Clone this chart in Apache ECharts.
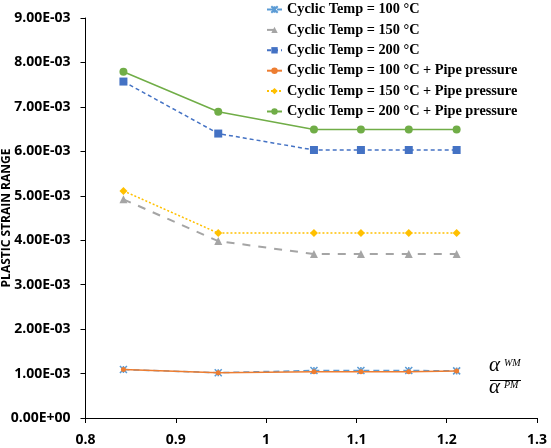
<!DOCTYPE html>
<html><head><meta charset="utf-8">
<script src="https://cdn.jsdelivr.net/npm/echarts@6/dist/echarts.min.js"></script>
<style>html,body{margin:0;padding:0;background:#fff}#c{width:551px;height:448px}</style>
</head><body><div id="c"></div>
<script>
const xRatio = [0.842, 0.947, 1.053, 1.105, 1.158, 1.211];
const names = [
  'Cyclic Temp = 100 °C',
  'Cyclic Temp = 150 °C',
  'Cyclic Temp = 200 °C',
  'Cyclic Temp = 100 °C + Pipe pressure',
  'Cyclic Temp = 150 °C + Pipe pressure',
  'Cyclic Temp = 200 °C + Pipe pressure'
];
const t100  = [0.00109, 0.00102, 0.00107, 0.00107, 0.00107, 0.00106];
const t150  = [0.00492, 0.00398, 0.00369, 0.00369, 0.00369, 0.00369];
const t200  = [0.00757, 0.00640, 0.00603, 0.00603, 0.00603, 0.00603];
const t100p = [0.00109, 0.00102, 0.00104, 0.00104, 0.00104, 0.00106];
const t150p = [0.00511, 0.00416, 0.00416, 0.00416, 0.00416, 0.00416];
const t200p = [0.00779, 0.00689, 0.00649, 0.00649, 0.00649, 0.00649];
const xTicks = [0.8, 0.9, 1, 1.1, 1.2, 1.3];
const yLabel = 'PLASTIC STRAIN RANGE';

const pair = arr => arr.map((v, i) => [xRatio[i], v]);
function fmtE(v) {
  const s = Number(v).toExponential(2);
  const [m, e] = s.split('e');
  const n = parseInt(e, 10);
  const sign = n < 0 ? '-' : '+';
  return m + 'E' + sign + String(Math.abs(n)).padStart(2, '0');
}
const styles = [
  {c:'#5B9BD5', type:[6,4], sym:'path://M0,0L10,10M10,0L0,10M5,0L5,10', size:7, w:1.5},
  {c:'#A5A5A5', type:[8,8], sym:'triangle', size:8, w:2},
  {c:'#4472C4', type:[4,3], sym:'rect', size:8, w:1.5},
  {c:'#ED7D31', type:'solid', sym:'circle', size:5, w:1.5},
  {c:'#FFC000', type:[2,2], sym:'diamond', size:8, w:1.5},
  {c:'#70AD47', type:'solid', sym:'circle', size:8, w:1.5}
];
const datas = [t100, t150, t200, t100p, t150p, t200p];
const series = datas.map((d, i) => ({
  name: names[i], type: 'line', data: pair(d),
  symbol: styles[i].sym, symbolSize: styles[i].size,
  lineStyle: {color: styles[i].c, type: styles[i].type, width: styles[i].w},
  itemStyle: {color: styles[i].c, borderColor: styles[i].c, borderWidth: i === 0 ? 1.5 : 0},
  z: i === 3 ? 3 : 2
}));

const chart = echarts.init(document.getElementById('c'), null, {renderer: 'canvas'});
chart.setOption({
  animation: false,
  backgroundColor: '#fff',
  grid: {left: 85.5, right: 14, top: 18, bottom: 30, containLabel: false, outerBoundsMode: 'none'},
  legend: {
    orient: 'vertical', left: 261, top: -3, itemGap: 5.4,
    itemWidth: 15, itemHeight: 8,
    textStyle: {fontFamily: 'Liberation Serif', fontWeight: 'bold', fontSize: 14.3, lineHeight: 15, color: '#000'},
    data: names
  },
  xAxis: {
    type: 'value', min: 0.8, max: 1.3, interval: 0.1,
    axisLine: {show: true, onZero: false, lineStyle: {color: '#000', width: 1}},
    axisTick: {show: true, length: 5, lineStyle: {color: '#000'}},
    splitLine: {show: false},
    axisLabel: {formatter: v => String(+v.toFixed(1)), fontFamily: 'Open Sans', fontWeight: 'bold', fontSize: 14, color: '#000', margin: 15}
  },
  yAxis: {
    type: 'value', min: 0, max: 0.009, interval: 0.001,
    name: yLabel, nameLocation: 'middle', nameGap: 73, nameRotate: 90, nameMoveOverlap: false,
    nameTextStyle: {fontFamily: 'Open Sans', fontWeight: 'bold', fontSize: 12, color: '#000'},
    axisLine: {show: true, lineStyle: {color: '#000', width: 1}},
    axisTick: {show: true, length: 5, lineStyle: {color: '#000'}},
    splitLine: {show: false},
    axisLabel: {formatter: v => fmtE(v), fontFamily: 'Open Sans', fontWeight: 'bold', fontSize: 14, color: '#000', margin: 15}
  },
  graphic: [
    {type: 'text', left: 489, top: 355, style: {text: 'α', fontFamily: 'Liberation Serif', fontStyle: 'italic', fontSize: 21, fill: '#000'}},
    {type: 'text', left: 504, top: 358, style: {text: 'WM', fontFamily: 'Liberation Serif', fontStyle: 'italic', fontSize: 10, fill: '#000'}},
    {type: 'line', shape: {x1: 490, y1: 380.5, x2: 521, y2: 380.5}, style: {stroke: '#000', lineWidth: 1}},
    {type: 'text', left: 489, top: 377, style: {text: 'α', fontFamily: 'Liberation Serif', fontStyle: 'italic', fontSize: 21, fill: '#000'}},
    {type: 'text', left: 504, top: 380, style: {text: 'PM', fontFamily: 'Liberation Serif', fontStyle: 'italic', fontSize: 10, fill: '#000'}}
  ],
  series: series
});
</script></body></html>
